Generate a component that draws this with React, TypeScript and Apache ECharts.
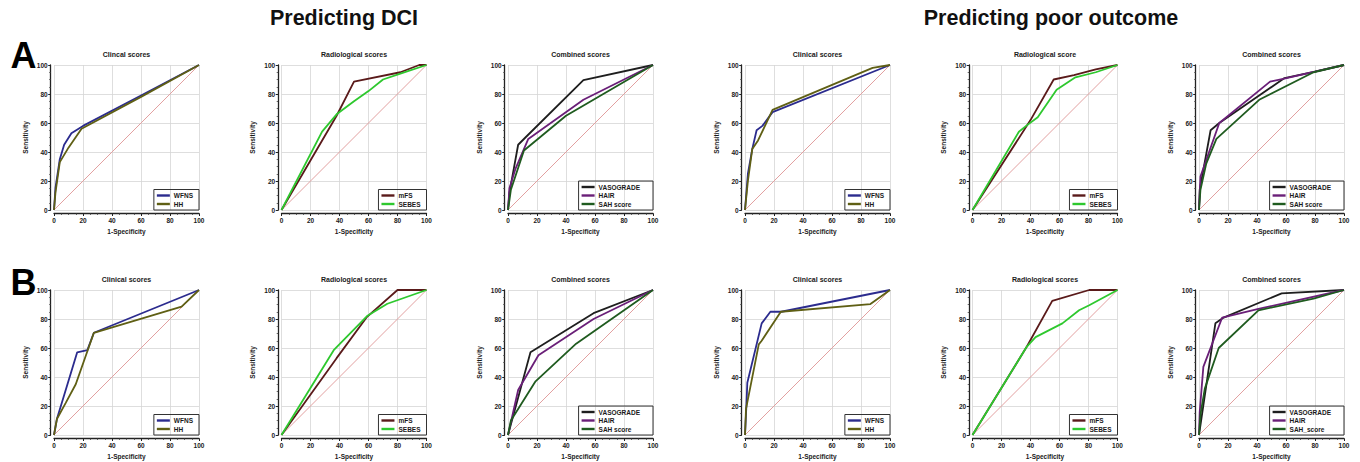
import React, { useEffect, useRef } from 'react';
import * as echarts from 'echarts';

// ---------- Data (x = 1-Specificity, y = Sensitivity) ----------
// Row A – Predicting DCI
const A_DCI_CLIN_WFNS = [[0, 0], [1, 15], [4, 35], [7, 45], [12, 53], [20, 58], [60, 79], [100, 100]];
const A_DCI_CLIN_HH = [[0, 0], [1, 12], [4, 33], [10, 43], [19, 56], [60, 78], [100, 100]];
const A_DCI_RAD_MFS = [[0, 0], [38, 65], [50, 88.5], [82, 95], [95, 100], [100, 100]];
const A_DCI_RAD_SEBES = [[0, 0], [28, 54], [38, 66], [50, 75], [60, 82], [70, 90], [82, 94], [100, 100]];
const A_DCI_COMB_VASO = [[0, 0], [1, 12], [7, 45], [12, 50], [52, 89.5], [100, 100]];
const A_DCI_COMB_HAIR = [[0, 0], [1, 15], [5, 28], [14, 49], [52, 76], [100, 100]];
const A_DCI_COMB_SAH = [[0, 0], [2, 14], [11, 41], [40, 65], [100, 100]];
// Row A – Predicting poor outcome
const A_PO_CLIN_WFNS = [[0, 0], [2, 25], [5, 42], [8, 55], [12, 58], [19, 67.5], [100, 100]];
const A_PO_CLIN_HH = [[0, 0], [2, 20], [5, 42], [9, 48], [19, 69], [88, 98], [100, 100]];
const A_PO_RAD_MFS = [[0, 0], [40, 62], [56, 90], [70, 93], [85, 97], [100, 100]];
const A_PO_RAD_SEBES = [[0, 0], [32, 54], [37, 58], [45, 64], [58, 83], [71, 91.5], [85, 95], [100, 100]];
const A_PO_COMB_VASO = [[0, 0], [0.5, 14], [8, 55], [14, 60], [59, 91], [80, 95.5], [100, 100]];
const A_PO_COMB_HAIR = [[0, 0], [1, 23], [14, 60], [49, 88.5], [58, 90.5], [100, 100]];
const A_PO_COMB_SAH = [[0, 0], [1, 14], [5, 32], [12, 49], [41.5, 76], [79, 95], [100, 100]];
// Row B – Predicting DCI
const B_DCI_CLIN_WFNS = [[0, 0], [2, 11], [16, 57], [23, 58.5], [27.5, 70.5], [100, 100]];
const B_DCI_CLIN_HH = [[0, 0], [2, 11], [8, 22], [15, 35], [27.5, 70.5], [88, 88.5], [100, 100]];
const B_DCI_RAD_MFS = [[0, 0], [38, 53], [59, 81.5], [80, 100], [100, 100]];
const B_DCI_RAD_SEBES = [[0, 0], [36, 58.5], [59, 82], [73, 90.5], [100, 100]];
const B_DCI_COMB_VASO = [[0, 0], [15.5, 57], [59, 84], [100, 100]];
const B_DCI_COMB_HAIR = [[0, 0], [7, 31], [21, 55], [59, 80], [100, 100]];
const B_DCI_COMB_SAH = [[0, 0], [2, 10], [19, 37], [47, 63], [100, 100]];
// Row B – Predicting poor outcome
const B_PO_CLIN_WFNS = [[0, 0], [1, 21], [1.6, 36], [11.5, 77], [17.5, 85], [25, 85], [100, 100]];
const B_PO_CLIN_HH = [[0, 0], [0.7, 18], [9.5, 62.5], [11.5, 65], [24.7, 85], [86.5, 90.3], [100, 100]];
const B_PO_RAD_MFS = [[0, 0], [37.5, 61], [55, 92.5], [80.5, 100], [100, 100]];
const B_PO_RAD_SEBES = [[0, 0], [37.5, 61], [43.5, 67.5], [62, 77], [73.5, 86], [80.5, 89.5], [100, 100]];
const B_PO_COMB_VASO = [[0, 0], [11.3, 77], [17, 81], [57, 97.7], [100, 100]];
const B_PO_COMB_HAIR = [[0, 0], [0.5, 16], [3, 47], [16, 81], [41, 87], [100, 100]];
const B_PO_COMB_SAH = [[0, 0], [1, 14], [4, 32], [13.6, 60], [41, 86], [79, 94], [100, 100]];

const DIAGONAL = [[0, 0], [100, 100]];
const TICKS_MAJOR = 20;

const PANEL_TITLES = [
  'Clincal scores', 'Radiological scores', 'Combined scores', 'Clinical scores', 'Radiological score', 'Combined scores',
  'Clinical scores', 'Radiological scores', 'Combined scores', 'Clinical scores', 'Radiological scores', 'Combined scores',
];
const GROUP_TITLES = ['Predicting DCI', 'Predicting poor outcome'];
const ROW_LETTERS = ['A', 'B'];

// ---------- Styles ----------
const COLORS: Record<string, string> = {
  WFNS: '#2b2b8e',
  HH: '#5f5f14',
  mFS: '#5a1a1a',
  SEBES: '#2ec82e',
  VASOGRADE: '#1e1e1e',
  HAIR: '#6a1f78',
  'SAH score': '#1f5b1f',
  SAH_score: '#1f5b1f',
};
const DIAG_COLOR = '#e2a0a0';

type S = { name: string; data: number[][] };
const PANELS: S[][] = [
  [{ name: 'WFNS', data: A_DCI_CLIN_WFNS }, { name: 'HH', data: A_DCI_CLIN_HH }],
  [{ name: 'mFS', data: A_DCI_RAD_MFS }, { name: 'SEBES', data: A_DCI_RAD_SEBES }],
  [{ name: 'VASOGRADE', data: A_DCI_COMB_VASO }, { name: 'HAIR', data: A_DCI_COMB_HAIR }, { name: 'SAH score', data: A_DCI_COMB_SAH }],
  [{ name: 'WFNS', data: A_PO_CLIN_WFNS }, { name: 'HH', data: A_PO_CLIN_HH }],
  [{ name: 'mFS', data: A_PO_RAD_MFS }, { name: 'SEBES', data: A_PO_RAD_SEBES }],
  [{ name: 'VASOGRADE', data: A_PO_COMB_VASO }, { name: 'HAIR', data: A_PO_COMB_HAIR }, { name: 'SAH score', data: A_PO_COMB_SAH }],
  [{ name: 'WFNS', data: B_DCI_CLIN_WFNS }, { name: 'HH', data: B_DCI_CLIN_HH }],
  [{ name: 'mFS', data: B_DCI_RAD_MFS }, { name: 'SEBES', data: B_DCI_RAD_SEBES }],
  [{ name: 'VASOGRADE', data: B_DCI_COMB_VASO }, { name: 'HAIR', data: B_DCI_COMB_HAIR }, { name: 'SAH score', data: B_DCI_COMB_SAH }],
  [{ name: 'WFNS', data: B_PO_CLIN_WFNS }, { name: 'HH', data: B_PO_CLIN_HH }],
  [{ name: 'mFS', data: B_PO_RAD_MFS }, { name: 'SEBES', data: B_PO_RAD_SEBES }],
  [{ name: 'VASOGRADE', data: B_PO_COMB_VASO }, { name: 'HAIR', data: B_PO_COMB_HAIR }, { name: 'SAH_score', data: B_PO_COMB_SAH }],
];

const W = 1360;
const H = 462;
const LEFTS = [54, 281.5, 508, 745, 972.5, 1199];
const TOPS = [65, 290];
const PW = 145;
const PH = 145;
const FONT = "'Liberation Sans', Arial, Helvetica, sans-serif";
const TXT = '#1a1a1a';

function buildOption() {
  const grid: any[] = [];
  const xAxis: any[] = [];
  const yAxis: any[] = [];
  const series: any[] = [];
  const legend: any[] = [];
  const graphic: any[] = [];

  const small = { fontSize: 6.5, fontWeight: 'bold', color: TXT, fontFamily: FONT };

  PANELS.forEach((panel, i) => {
    const col = i % 6;
    const row = Math.floor(i / 6);
    const left = LEFTS[col];
    const top = TOPS[row];
    grid.push({ left, top, width: PW, height: PH, containLabel: false });
    const axisCommon = {
      type: 'value',
      gridIndex: i,
      min: 0,
      max: 100,
      interval: TICKS_MAJOR,
      axisLine: { show: true, onZero: false, lineStyle: { color: '#222', width: 1.3 } },
      axisTick: { show: true, length: 2.5, lineStyle: { color: '#222', width: 1 } },
      minorTick: { show: true, splitNumber: 4, length: 1.5, lineStyle: { color: '#444', width: 0.8 } },
      splitLine: { show: true, lineStyle: { color: '#d6d6d6', width: 0.8 } },
      axisLabel: { ...small, margin: 3 },
      nameLocation: 'middle',
      nameTextStyle: { ...small },
    };
    xAxis.push({ ...axisCommon, offset: 3.5, name: '1-Specificity', nameGap: 14 });
    yAxis.push({ ...axisCommon, offset: 3.3, name: 'Sensitivity', nameGap: 22, nameRotate: 90 });

    series.push({
      type: 'line',
      name: 'reference-' + i,
      xAxisIndex: i,
      yAxisIndex: i,
      data: DIAGONAL,
      symbol: 'none',
      silent: true,
      color: DIAG_COLOR,
      itemStyle: { color: DIAG_COLOR },
      lineStyle: { color: DIAG_COLOR, width: 1, opacity: 1 },
      emphasis: { disabled: true },
      z: 1,
    });
    panel.forEach((s) => {
      series.push({
        type: 'line',
        name: s.name,
        xAxisIndex: i,
        yAxisIndex: i,
        data: s.data,
        symbol: 'none',
        color: COLORS[s.name],
        lineStyle: { color: COLORS[s.name], width: 1.8 },
        emphasis: { disabled: true },
        z: 3,
      });
    });

    const three = panel.length === 3;
    legend.push({
      data: panel.map((s) => s.name),
      orient: 'vertical',
      right: W - (left + PW),
      bottom: H - (top + PH),
      icon: 'rect',
      itemWidth: 13,
      itemHeight: 2.4,
      itemGap: 0.5,
      borderColor: '#333',
      borderWidth: 1,
      borderRadius: 0,
      padding: three ? [2, 13, 2, 3] : [2, 6, 2, 3],
      selectedMode: false,
      textStyle: { ...small, lineHeight: 8, padding: [0, 0, 0, -1] },
    });

    graphic.push({
      type: 'text',
      x: left + PW / 2,
      y: top - 10.5,
      silent: true,
      style: {
        text: PANEL_TITLES[i],
        fill: TXT,
        font: `bold 7px ${FONT}`,
        textAlign: 'center',
        textVerticalAlign: 'middle',
      },
    });
  });

  const groupCenters = [344, 1051];
  GROUP_TITLES.forEach((t, k) => {
    graphic.push({
      type: 'text',
      x: groupCenters[k],
      y: 18,
      silent: true,
      style: { text: t, fill: '#111', font: `bold 21.5px ${FONT}`, textAlign: 'center', textVerticalAlign: 'middle' },
    });
  });
  const letterY = [55, 282];
  ROW_LETTERS.forEach((t, k) => {
    graphic.push({
      type: 'text',
      x: 23.5,
      y: letterY[k],
      silent: true,
      style: { text: t, fill: '#000', font: `bold 36px ${FONT}`, textAlign: 'center', textVerticalAlign: 'middle' },
    });
  });

  return {
    animation: false,
    backgroundColor: '#ffffff',
    grid,
    xAxis,
    yAxis,
    series,
    legend,
    graphic,
  };
}

export default function App() {
  const ref = useRef<HTMLDivElement>(null);
  useEffect(() => {
    if (!ref.current) return;
    const chart = echarts.init(ref.current, undefined, { renderer: 'svg', width: W, height: H });
    chart.setOption(buildOption() as any);
    return () => chart.dispose();
  }, []);
  return (
    <div
      ref={ref}
      style={{ position: 'fixed', left: 0, top: 0, width: W, height: H, background: '#fff' }}
    />
  );
}
